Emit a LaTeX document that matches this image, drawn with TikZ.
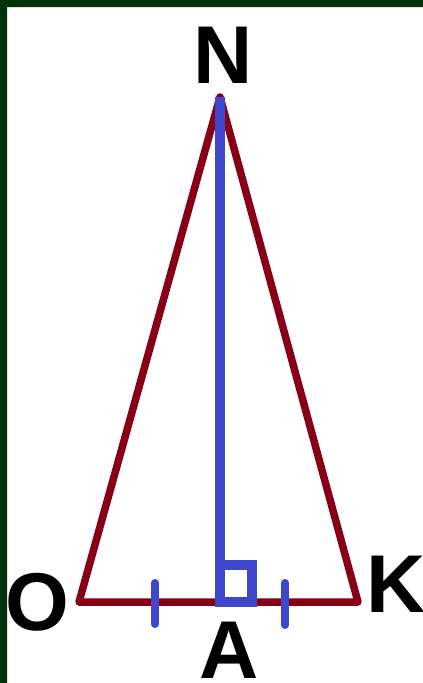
\documentclass[tikz,border=0pt]{standalone}
\usepackage{fontspec}
\setmainfont{Liberation Sans}
\definecolor{paintred}{RGB}{136,0,21}
\definecolor{paintblue}{RGB}{63,72,204}
\definecolor{frame}{RGB}{3,50,9}
\tikzset{
	side/.style={paintred, line width=7.5pt, line join=round, line cap=round},
	height/.style={paintblue, line width=9.5pt},
	tick/.style={paintblue, line width=8pt, line cap=round},
	vname/.style={anchor=base, inner sep=0pt, font=\fontsize{82}{90}\selectfont\bfseries}
}
\begin{document}
\begin{tikzpicture}[x=1pt, y=-1pt]
	\useasboundingbox (0,0) rectangle (423,683);
	\fill[white] (0,0) rectangle (423,683);
	\fill[frame] (0,0) rectangle (423,7) (0,0) rectangle (7,683);
	
	%
	\coordinate (N) at (220, 97);
	\coordinate (O) at (79, 602);
	\coordinate (K) at (358, 602);
	\coordinate (A) at (220, 602);
	
	\coordinate (T1) at (155, 583);
	\coordinate (T2) at (155, 624);
	\coordinate (T3) at (285, 583);
	\coordinate (T4) at (285, 625);
	
	\draw[side] (N) -- (O) -- (K) -- cycle;
	
	\draw[height] (N) -- (A);
	\draw[height] (A) rectangle ++(32,-37);
	\draw[tick] (T1) -- (T2) (T3) -- (T4);
	
	\node[vname] (lN) at (223, 83) {N};
	\node[vname] (lO) at (37, 630) {O};
	\node[vname] (lK) at (396, 612) {K};
	\node[vname] (lA) at (229, 678) {A};
\end{tikzpicture}
\end{document}
